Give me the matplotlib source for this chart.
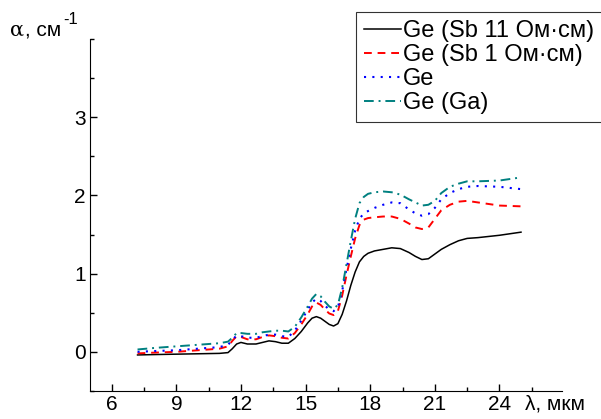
import matplotlib
matplotlib.use("Agg")
import matplotlib.pyplot as plt
from matplotlib.ticker import MultipleLocator

plt.rcParams['font.family'] = ['Liberation Sans', 'DejaVu Sans']

# длина волны, мкм
wl = [7.2, 8, 9, 10, 11, 11.4, 11.6, 11.8, 12.0, 12.3, 12.7, 13.0, 13.3, 13.6,
      13.9, 14.2, 14.5, 14.8, 15.1, 15.3, 15.5, 15.7, 15.9, 16.1, 16.3, 16.5,
      16.7, 16.9, 17.1, 17.3, 17.5, 17.7, 17.9, 18.2, 18.6, 19.0, 19.4, 19.8,
      20.1, 20.4, 20.7, 21.0, 21.3, 21.7, 22.1, 22.5, 23.0, 24.0, 25.0]

ge_sb11 = [-0.04, -0.035, -0.03, -0.025, -0.02, -0.01, 0.04, 0.10, 0.12, 0.10,
           0.10, 0.12, 0.14, 0.13, 0.11, 0.11, 0.17, 0.26, 0.37, 0.43, 0.45,
           0.43, 0.39, 0.35, 0.33, 0.36, 0.48, 0.65, 0.85, 1.02, 1.15, 1.22,
           1.26, 1.29, 1.31, 1.33, 1.32, 1.27, 1.22, 1.18, 1.19, 1.25, 1.31,
           1.37, 1.42, 1.45, 1.46, 1.49, 1.53]
ge_sb1 = [-0.02, -0.01, 0.0, 0.02, 0.04, 0.07, 0.14, 0.20, 0.19, 0.16, 0.16,
          0.19, 0.21, 0.20, 0.18, 0.17, 0.24, 0.35, 0.48, 0.58, 0.63, 0.60,
          0.54, 0.49, 0.47, 0.52, 0.72, 0.98, 1.22, 1.45, 1.62, 1.69, 1.71,
          1.72, 1.73, 1.73, 1.70, 1.64, 1.59, 1.57, 1.59, 1.70, 1.81, 1.88,
          1.92, 1.93, 1.91, 1.87, 1.86]
ge = [0.0, 0.01, 0.02, 0.04, 0.06, 0.09, 0.15, 0.21, 0.20, 0.18, 0.18, 0.20,
      0.22, 0.22, 0.20, 0.19, 0.27, 0.40, 0.54, 0.63, 0.68, 0.65, 0.59, 0.54,
      0.52, 0.57, 0.78, 1.06, 1.32, 1.55, 1.70, 1.77, 1.80, 1.84, 1.88, 1.91,
      1.90, 1.82, 1.77, 1.74, 1.76, 1.84, 1.95, 2.03, 2.08, 2.11, 2.12, 2.11,
      2.08]
ge_ga = [0.03, 0.05, 0.07, 0.09, 0.11, 0.13, 0.18, 0.24, 0.24, 0.23, 0.23,
         0.25, 0.26, 0.27, 0.27, 0.26, 0.32, 0.44, 0.58, 0.68, 0.74, 0.71,
         0.64, 0.58, 0.55, 0.60, 0.82, 1.12, 1.42, 1.70, 1.90, 1.98, 2.02,
         2.04, 2.05, 2.04, 2.01, 1.95, 1.91, 1.87, 1.88, 1.93, 2.03, 2.11,
         2.15, 2.18, 2.18, 2.19, 2.23]

labels = ["Ge (Sb 11 Ом·см)", "Ge (Sb 1 Ом·см)", "Ge", "Ge (Ga)"]

fig = plt.figure(figsize=(6.01, 4.19), dpi=100)
ax = fig.add_axes([0.150, 0.067, 0.785, 0.840])

ax.plot(wl, ge_sb11, color='black', lw=1.1, label=labels[0])
ax.plot(wl, ge_sb1, color='#ff0000', lw=1.4, linestyle=(0, (4, 3)), label=labels[1])
ax.plot(wl, ge, color='#0000ff', lw=1.5, linestyle=(0, (1, 3)), label=labels[2])
ax.plot(wl, ge_ga, color='#008080', lw=1.4, linestyle=(0, (5, 2.5, 1, 2.5)), label=labels[3])

ax.set_xlim(5, 26.9)
ax.set_ylim(-0.5, 4.0)
ax.xaxis.set_minor_locator(MultipleLocator(1.5))
ax.yaxis.set_minor_locator(MultipleLocator(0.5))
ax.set_xticks([6, 9, 12, 15, 18, 21, 24])
ax.set_yticks([0, 1, 2, 3])

for s in ['top', 'right']:
    ax.spines[s].set_visible(False)
ax.tick_params(which='both', direction='in', labelsize=15, width=1)
ax.tick_params(which='major', length=5, pad=3)
ax.tick_params(which='minor', length=3)

fig.text(0.017, 0.915, "α", fontsize=15, family=['DejaVu Serif'], ha='left', va='baseline')
fig.text(0.042, 0.915, ", см", fontsize=15, ha='left', va='baseline')
fig.text(0.105, 0.943, "-1", fontsize=12, ha='left', va='baseline')
fig.text(0.873, 0.022, "λ, мкм", fontsize=15, ha='left', va='baseline')

leg = fig.legend(loc='upper left', bbox_to_anchor=(0.592, 0.971), fontsize=17,
                 frameon=True, fancybox=False, handlelength=1.55, handletextpad=0.1,
                 labelspacing=0.08, borderpad=0.35, borderaxespad=0)
leg.get_frame().set_edgecolor('black')
leg.get_frame().set_linewidth(0.8)

fig.savefig("out.png", dpi=100)
